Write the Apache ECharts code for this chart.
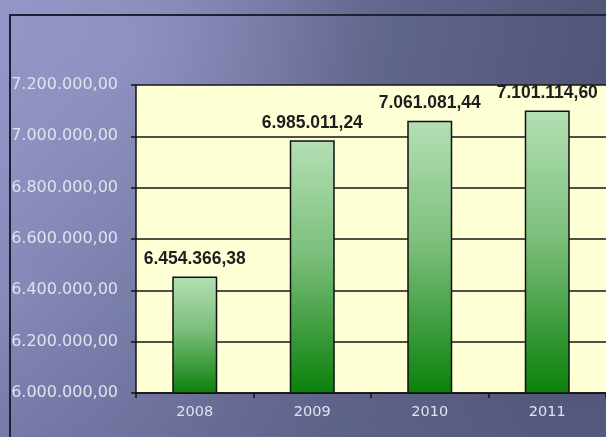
<!DOCTYPE html>
<html>
<head>
<meta charset="utf-8">
<script src="https://cdn.jsdelivr.net/npm/echarts@6/dist/echarts.min.js"></script>
<style>
  html, body { margin: 0; padding: 0; background: #6a6e98; }
  #chart { width: 606px; height: 437px; }
</style>
</head>
<body>
<div id="chart"></div>
<script>
// Annual totals, 2008–2011
const years = ['2008', '2009', '2010', '2011'];
const totals = [6454366.38, 6985011.24, 7061081.44, 7101114.60];
const yMin = 6000000;
const yMax = 7200000;
const yStep = 200000;

// 1234567.8 -> "1.234.567,80"
function fmt(v) {
  const parts = Number(v).toFixed(2).split('.');
  const intPart = parts[0].replace(/\B(?=(\d{3})+(?!\d))/g, '.');
  return intPart + ',' + parts[1];
}

const chart = echarts.init(document.getElementById('chart'), null, { renderer: 'canvas' });

chart.setOption({
  animation: false,
  backgroundColor: {
    type: 'linear', x: 0, y: 0, x2: 1, y2: 0.3,
    colorStops: [
      { offset: 0, color: '#8e91c2' },
      { offset: 0.3, color: '#7a7eab' },
      { offset: 0.65, color: '#5f6489' },
      { offset: 1, color: '#4f5576' }
    ]
  },
  graphic: [
    {
      type: 'rect', z: -10, silent: true,
      shape: { x: 0, y: 0, width: 606, height: 437 },
      style: {
        fill: {
          type: 'radial', x: 0.2, y: 0.1, r: 0.55,
          colorStops: [
            { offset: 0, color: 'rgba(180,182,228,0.3)' },
            { offset: 1, color: 'rgba(180,182,228,0)' }
          ]
        }
      }
    },
    {
      type: 'rect', z: -9, silent: true,
      shape: { x: 0, y: 300, width: 606, height: 137 },
      style: {
        fill: {
          type: 'linear', x: 0, y: 0, x2: 0, y2: 1,
          colorStops: [
            { offset: 0, color: 'rgba(95,98,140,0)' },
            { offset: 1, color: 'rgba(95,98,140,0.35)' }
          ]
        }
      }
    },
    // Outer frame lines
    {
      type: 'polyline', z: 50, silent: true,
      shape: { points: [[10, 437], [10, 15], [606, 15]] },
      style: { stroke: '#1c2233', lineWidth: 2, fill: null }
    }
  ],
  grid: {
    left: 136, top: 85, width: 472, bottom: 44,
    show: true,
    backgroundColor: '#ffffd6',
    borderWidth: 0
  },
  xAxis: {
    type: 'category',
    data: years,
    boundaryGap: true,
    axisLine: { show: true, lineStyle: { color: '#111', width: 1.5 } },
    axisTick: { show: true, length: 5, inside: false, alignWithLabel: false, lineStyle: { color: '#111', width: 1.5 } },
    axisLabel: {
      color: '#e2e1ee', fontFamily: 'DejaVu Sans', fontSize: 14.5, margin: 12
    },
    splitLine: { show: false }
  },
  yAxis: {
    type: 'value',
    min: yMin, max: yMax, interval: yStep,
    axisLine: { show: true, lineStyle: { color: '#111', width: 1.5 } },
    axisTick: { show: true, length: 5, lineStyle: { color: '#111', width: 1.5 } },
    axisLabel: {
      color: '#e2e1ee', fontFamily: 'DejaVu Sans', fontSize: 16, margin: 18,
      formatter: v => fmt(v)
    },
    splitLine: { show: true, lineStyle: { color: '#161616', width: 1.5 } }
  },
  series: [{
    type: 'bar',
    data: totals,
    barWidth: 45,
    itemStyle: {
      borderColor: '#111',
      borderWidth: 1.5,
      color: {
        type: 'linear', x: 0, y: 0, x2: 0, y2: 1,
        colorStops: [
          { offset: 0, color: '#b4dfb4' },
          { offset: 0.45, color: '#7cbf7c' },
          { offset: 1, color: '#0a800a' }
        ]
      }
    },
    label: {
      show: true,
      position: 'top',
      distance: 8,
      color: '#1e1e1e',
      fontFamily: 'Liberation Sans',
      fontWeight: 'bold',
      fontSize: 17.5,
      formatter: p => fmt(p.value)
    }
  }]
});
</script>
</body>
</html>
